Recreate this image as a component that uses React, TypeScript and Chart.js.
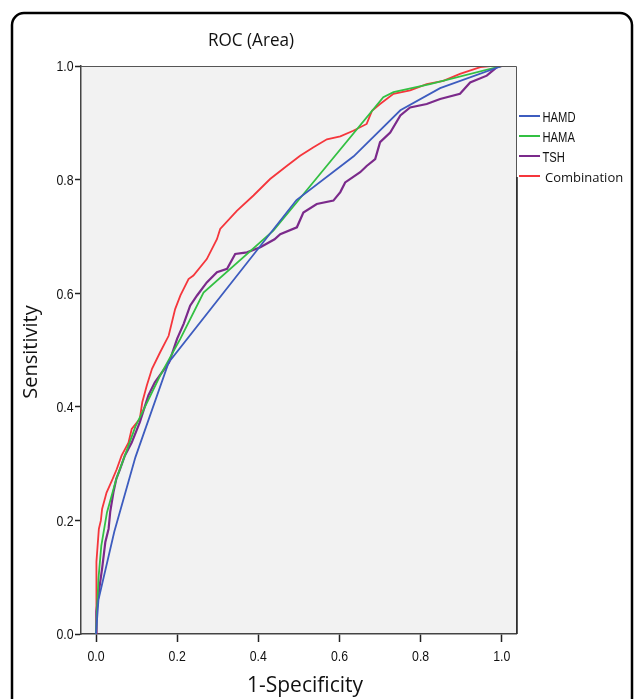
import React, { useEffect, useRef } from "react";
import { Chart, registerables } from "chart.js";

Chart.register(...registerables);

// ---- data ----
const chartTitle = "ROC (Area)";
const xAxisTitle = "1-Specificity";
const yAxisTitle = "Sensitivity";
const xTicks = [0, 0.2, 0.4, 0.6, 0.8, 1.0];
const yTicks = [0, 0.2, 0.4, 0.6, 0.8, 1.0];
const seriesLabels = ["HAMD", "HAMA", "TSH", "Combination"];
const seriesColors = ["#3d5cbf", "#33c043", "#7b2a8b", "#f5363c"];

const hamdX = [0, 0.006, 0.045, 0.097, 0.179, 0.494, 0.635, 0.75, 0.848, 1.0];
const hamdY = [0, 0.06, 0.18, 0.311, 0.478, 0.764, 0.841, 0.922, 0.961, 1.0];

const hamaX = [0, 0.003, 0.006, 0.013, 0.027, 0.05, 0.097, 0.158, 0.208, 0.265, 0.437, 0.708, 0.733, 0.823, 1.0];
const hamaY = [0, 0.05, 0.097, 0.155, 0.214, 0.273, 0.365, 0.455, 0.52, 0.601, 0.71, 0.945, 0.954, 0.968, 1.0];

const tshX = [0, 0.001, 0.008, 0.015, 0.023, 0.031, 0.035, 0.043, 0.05, 0.059, 0.071, 0.088, 0.108, 0.129, 0.145, 0.18, 0.2, 0.216, 0.232, 0.249, 0.273, 0.298, 0.323, 0.343, 0.372, 0.405, 0.44, 0.454, 0.495, 0.511, 0.544, 0.585, 0.602, 0.614, 0.651, 0.667, 0.688, 0.7, 0.725, 0.75, 0.774, 0.815, 0.848, 0.897, 0.922, 0.963, 0.988, 1.0];
const tshY = [0, 0.04, 0.08, 0.115, 0.162, 0.185, 0.215, 0.25, 0.273, 0.29, 0.314, 0.337, 0.373, 0.42, 0.443, 0.478, 0.52, 0.546, 0.578, 0.596, 0.619, 0.637, 0.643, 0.669, 0.672, 0.681, 0.695, 0.704, 0.716, 0.742, 0.757, 0.763, 0.778, 0.795, 0.813, 0.824, 0.836, 0.866, 0.883, 0.913, 0.927, 0.933, 0.942, 0.951, 0.971, 0.983, 0.998, 1.0];

const combX = [0, 0.001, 0.001, 0.007, 0.012, 0.015, 0.026, 0.041, 0.051, 0.063, 0.08, 0.088, 0.108, 0.114, 0.125, 0.138, 0.158, 0.179, 0.195, 0.208, 0.228, 0.24, 0.273, 0.298, 0.306, 0.347, 0.388, 0.429, 0.47, 0.503, 0.536, 0.569, 0.602, 0.634, 0.667, 0.68, 0.7, 0.733, 0.774, 0.815, 0.856, 0.897, 0.947, 0.971, 1.0];
const combY = [0, 0.067, 0.127, 0.185, 0.2, 0.22, 0.249, 0.273, 0.29, 0.314, 0.337, 0.361, 0.379, 0.408, 0.437, 0.467, 0.496, 0.525, 0.572, 0.596, 0.625, 0.631, 0.66, 0.695, 0.713, 0.745, 0.772, 0.801, 0.824, 0.842, 0.857, 0.871, 0.876, 0.886, 0.898, 0.921, 0.933, 0.951, 0.957, 0.968, 0.974, 0.986, 0.998, 1.0, 1.0];

const seriesX = [hamdX, hamaX, tshX, combX];
const seriesY = [hamdY, hamaY, tshY, combY];
const seriesWidths = [1.8, 1.8, 2.2, 1.8];

const ARIAL = '"Liberation Sans", Arial, sans-serif';
const SANS = '"Open Sans", "Noto Sans", sans-serif';

// draws text horizontally compressed (narrow face look)
function narrowText(ctx: any, text: string, x: number, y: number, size: number, align: "left" | "right" | "center", squeeze = 0.82) {
  ctx.save();
  ctx.font = `${size}px ${ARIAL}`;
  ctx.textBaseline = "alphabetic";
  ctx.textAlign = align;
  ctx.translate(x, y);
  ctx.scale(squeeze, 1);
  ctx.fillText(text, 0, 0);
  ctx.restore();
}

const decorPlugin = {
  id: "decor",
  beforeDraw(chart: any) {
    const { ctx, chartArea } = chart;
    ctx.save();
    ctx.fillStyle = "#ffffff";
    ctx.fillRect(0, 0, chart.width, chart.height);
    // outer rounded frame
    ctx.strokeStyle = "#000";
    ctx.lineWidth = 2.5;
    ctx.beginPath();
    ctx.roundRect(12, 13, 620, 720, 12);
    ctx.stroke();
    // plot background
    ctx.fillStyle = "#f2f2f2";
    ctx.fillRect(chartArea.left, chartArea.top, chartArea.right - chartArea.left, chartArea.bottom - chartArea.top);
    ctx.restore();
  },
  afterDraw(chart: any) {
    const { ctx, chartArea } = chart;
    ctx.save();
    // plot frame top / right
    ctx.strokeStyle = "#555";
    ctx.lineWidth = 1;
    ctx.beginPath();
    ctx.moveTo(chartArea.left, chartArea.top + 0.5);
    ctx.lineTo(chartArea.right + 0.5, chartArea.top + 0.5);
    ctx.lineTo(chartArea.right + 0.5, chartArea.bottom);
    ctx.stroke();
    ctx.strokeStyle = "#222";
    ctx.lineWidth = 1.5;
    ctx.beginPath();
    ctx.moveTo(chartArea.right + 1, 177);
    ctx.lineTo(chartArea.right + 1, chartArea.bottom);
    ctx.stroke();

    ctx.fillStyle = "#111";
    // tick labels
    const xs = chart.scales.x;
    const ys = chart.scales.y;
    xTicks.forEach((v) => {
      narrowText(ctx, v.toFixed(1), xs.getPixelForValue(v), 661, 15, "center");
    });
    yTicks.forEach((v) => {
      narrowText(ctx, v.toFixed(1), 73.5, ys.getPixelForValue(v) + 5.4, 15, "right");
    });

    // title
    ctx.font = `19px ${SANS}`;
    ctx.textAlign = "center";
    ctx.textBaseline = "alphabetic";
    ctx.save();
    ctx.translate(251, 46);
    ctx.scale(0.9, 1);
    ctx.fillText(chartTitle, 0, 0);
    ctx.restore();

    // x axis title
    ctx.font = `21px ${SANS}`;
    ctx.fillText(xAxisTitle, 305, 692);

    // y axis title
    ctx.save();
    ctx.translate(37, 352);
    ctx.rotate(-Math.PI / 2);
    ctx.font = `20px ${SANS}`;
    ctx.textBaseline = "alphabetic";
    ctx.fillText(yAxisTitle, 0, 0);
    ctx.restore();

    // legend
    seriesLabels.forEach((lab, i) => {
      const y = 116 + 20 * i;
      ctx.strokeStyle = seriesColors[i];
      ctx.lineWidth = 2;
      ctx.beginPath();
      ctx.moveTo(519, y);
      ctx.lineTo(540, y);
      ctx.stroke();
      ctx.fillStyle = "#111";
      if (i < 3) {
        narrowText(ctx, lab, 542.5, y + 6, 14, "left", 0.8);
      } else {
        ctx.font = `13px ${SANS}`;
        ctx.textAlign = "left";
        ctx.textBaseline = "alphabetic";
        ctx.fillText(lab, 545, y + 5.5);
      }
    });
    ctx.restore();
  },
};

export default function App() {
  const ref = useRef<HTMLCanvasElement | null>(null);

  useEffect(() => {
    if (!ref.current) return;
    const datasets = seriesLabels.map((label, i) => ({
      label,
      data: seriesX[i].map((x, j) => ({ x, y: seriesY[i][j] })),
      borderColor: seriesColors[i],
      backgroundColor: seriesColors[i],
      borderWidth: seriesWidths[i],
      showLine: true,
      pointRadius: 0,
      tension: 0,
      fill: false,
    }));
    const tickFont = { family: ARIAL, size: 14 };
    const chart = new Chart(ref.current, {
      type: "scatter",
      data: { datasets },
      plugins: [decorPlugin],
      options: {
        animation: false,
        responsive: false,
        maintainAspectRatio: false,
        layout: { padding: { top: 66, right: 120, bottom: 0, left: 0 } },
        plugins: {
          legend: { display: false },
          title: { display: false },
          tooltip: { enabled: false },
        },
        scales: {
          x: {
            type: "linear",
            min: -0.037,
            max: 1.035,
            afterBuildTicks: (s: any) => {
              s.ticks = xTicks.map((v) => ({ value: v }));
            },
            afterFit: (s: any) => {
              s.height = 65;
            },
            ticks: {
              callback: (v: any) => Number(v).toFixed(1),
              font: tickFont,
              color: "rgba(0,0,0,0)",
              padding: 3,
              maxRotation: 0,
              autoSkip: false,
            },
            grid: {
              drawOnChartArea: false,
              drawTicks: true,
              tickLength: 8,
              color: "#222",
              tickWidth: 1.5,
            },
            border: { display: true, color: "#444", width: 1.5 },
          },
          y: {
            type: "linear",
            min: 0,
            max: 1.0,
            afterBuildTicks: (s: any) => {
              s.ticks = yTicks.map((v) => ({ value: v }));
            },
            afterFit: (s: any) => {
              s.width = 81;
            },
            ticks: {
              callback: (v: any) => Number(v).toFixed(1),
              font: tickFont,
              color: "rgba(0,0,0,0)",
              padding: 2,
              autoSkip: false,
            },
            grid: {
              drawOnChartArea: false,
              drawTicks: true,
              tickLength: 6,
              color: "#222",
              tickWidth: 1.5,
            },
            border: { display: true, color: "#444", width: 1.5 },
          },
        },
      },
    });
    return () => chart.destroy();
  }, []);

  return (
    <div style={{ position: "absolute", left: 0, top: 0, width: 636, height: 699 }}>
      <canvas ref={ref} width={636} height={699} style={{ display: "block" }} />
    </div>
  );
}
